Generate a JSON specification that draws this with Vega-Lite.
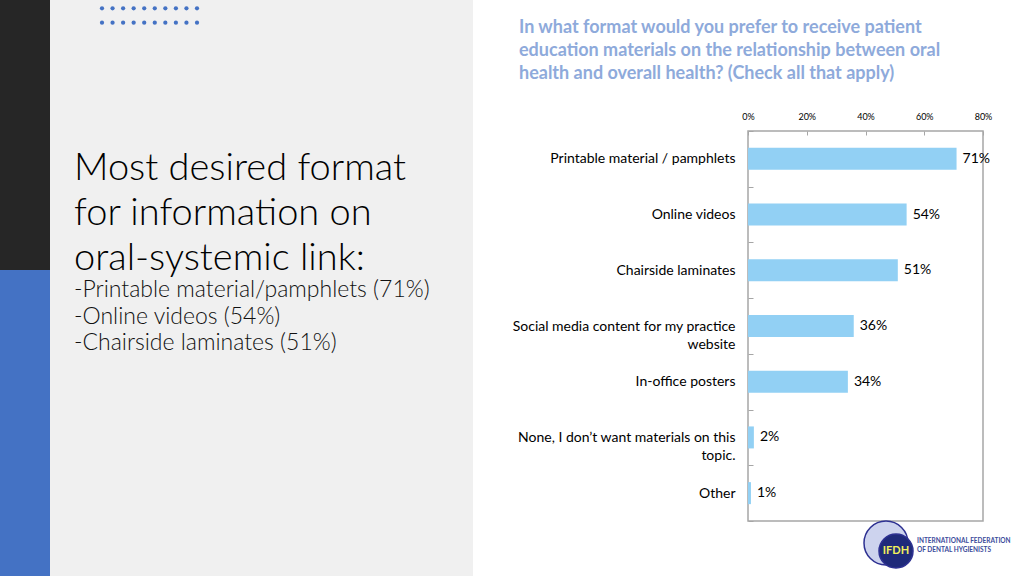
{
  "$schema": "https://vega.github.io/schema/vega-lite/v6.json",
  "padding": 0,
  "autosize": {"type": "pad"},
  "background": "white",
  "config": {"view": {"stroke": null}, "font": "Lato"},
  "spacing": 37,
  "hconcat": [
    {
      "spacing": 0,
      "hconcat": [
        {
          "spacing": 0,
          "vconcat": [
            {"width": 50, "height": 270, "view": {"fill": "#262626", "stroke": null}, "data": {"values": [{}]}, "mark": {"type": "text", "text": ""}, "encoding": {}},
            {"width": 50, "height": 306, "view": {"fill": "#4472c4", "stroke": null}, "data": {"values": [{}]}, "mark": {"type": "text", "text": ""}, "encoding": {}}
          ]
        },
        {
          "width": 423,
          "height": 576,
          "view": {"fill": "#f0f0f0", "stroke": null},
          "title": {
            "text": ["Most desired format", "for information on", "oral-systemic link:"],
            "subtitle": ["-Printable material/pamphlets (71%)", "-Online videos (54%)", "-Chairside laminates (51%)"],
            "orient": "top", "anchor": "start", "frame": "group", "offset": -355, "dx": 24,
            "font": "Lato", "fontSize": 38, "fontWeight": 300, "color": "#000000", "lineHeight": 45,
            "subtitleFont": "Lato", "subtitleFontSize": 23, "subtitleFontWeight": 300, "subtitleColor": "#111111", "subtitleLineHeight": 26.5, "subtitlePadding": 1
          },
          "data": {"values": [
            {"row": 1, "col": 1}, {"row": 1, "col": 2}, {"row": 1, "col": 3}, {"row": 1, "col": 4}, {"row": 1, "col": 5},
            {"row": 1, "col": 6}, {"row": 1, "col": 7}, {"row": 1, "col": 8}, {"row": 1, "col": 9}, {"row": 1, "col": 10},
            {"row": 2, "col": 1}, {"row": 2, "col": 2}, {"row": 2, "col": 3}, {"row": 2, "col": 4}, {"row": 2, "col": 5},
            {"row": 2, "col": 6}, {"row": 2, "col": 7}, {"row": 2, "col": 8}, {"row": 2, "col": 9}, {"row": 2, "col": 10}
          ]},
          "mark": {"type": "circle", "size": 18, "color": "#4472c4", "opacity": 1},
          "encoding": {
            "x": {"field": "col", "type": "ordinal", "scale": {"type": "point", "range": [52, 147], "padding": 0}, "axis": null},
            "y": {"field": "row", "type": "ordinal", "scale": {"type": "point", "range": [8.3, 22.7], "padding": 0}, "axis": null}
          }
        }
      ]
    },
    {
      "spacing": 0,
      "bounds": "flush",
      "vconcat": [
        {"width": 235, "height": 131, "data": {"values": [{}]}, "mark": {"type": "text", "text": ""}, "encoding": {}},
        {
          "width": 235,
          "height": 390,
          "view": {"stroke": "#a6a6a6", "strokeWidth": 1.5},
          "title": {
            "text": ["In what format would you prefer to receive patient", "education materials on the relationship between oral", "health and overall health? (Check all that apply)"],
            "anchor": "start", "frame": "group", "dx": -229, "offset": 29,
            "font": "Lato", "fontSize": 18, "fontWeight": "bold", "color": "#8eaadb", "lineHeight": 23
          },
          "data": {"values": [
            {"option": "Printable material / pamphlets", "pct": 0.71},
            {"option": "Online videos", "pct": 0.54},
            {"option": "Chairside laminates", "pct": 0.51},
            {"option": "Social media content for my practice website", "pct": 0.36},
            {"option": "In-office posters", "pct": 0.34},
            {"option": "None, I don’t want materials on this topic.", "pct": 0.02},
            {"option": "Other", "pct": 0.01}
          ]},
          "encoding": {
            "y": {
              "field": "option", "type": "nominal", "sort": null,
              "scale": {"paddingInner": 0, "paddingOuter": 0},
              "axis": {
                "title": null, "domain": false, "ticks": true, "tickBand": "extent", "tickSize": -5, "tickColor": "#a6a6a6",
                "labelPadding": 18, "labelFontSize": 14, "labelColor": "#000000", "labelFont": "Lato", "labelLimit": 300, "labelLineHeight": 18,
                "labelExpr": "datum.value == 'Social media content for my practice website' ? ['Social media content for my practice', 'website'] : datum.value == 'None, I don’t want materials on this topic.' ? ['None, I don’t want materials on this', 'topic.'] : datum.label"
              }
            }
          },
          "layer": [
            {
              "mark": {"type": "bar", "color": "#92d0f4", "height": 22},
              "encoding": {
                "x": {
                  "field": "pct", "type": "quantitative",
                  "scale": {"domain": [0, 0.8], "nice": false},
                  "axis": {
                    "orient": "top", "values": [0, 0.2, 0.4, 0.6, 0.8], "format": ".0%", "title": null, "grid": false,
                    "domain": false, "ticks": true, "tickSize": -4, "tickColor": "#a6a6a6",
                    "labelFontSize": 9, "labelColor": "#000000", "labelPadding": 14, "labelFont": "Lato", "labelFlush": false
                  }
                }
              }
            },
            {
              "mark": {"type": "text", "align": "left", "baseline": "middle", "dx": 6, "fontSize": 14, "color": "#000000", "font": "Lato"},
              "encoding": {
                "x": {"field": "pct", "type": "quantitative"},
                "text": {"field": "pct", "type": "quantitative", "format": ".0%"}
              }
            }
          ]
        },
        {
          "width": 274,
          "height": 54,
          "data": {"values": [{"org": "IFDH"}]},
          "layer": [
            {"mark": {"type": "circle", "size": 1936, "fill": "#cdd3ee", "stroke": "#2e3192", "strokeWidth": 1.5, "opacity": 1, "xOffset": 1, "yOffset": -5}, "encoding": {}},
            {"mark": {"type": "circle", "size": 1156, "fill": "#1f2a7a", "stroke": "#2e3192", "strokeWidth": 1.5, "opacity": 1, "xOffset": 11, "yOffset": 3}, "encoding": {}},
            {"mark": {"type": "text", "align": "center", "baseline": "middle", "dx": 11, "dy": 3, "fontSize": 11, "fontWeight": "bold", "color": "#f2f25a", "font": "Lato"}, "encoding": {"text": {"field": "org"}}},
            {"mark": {"type": "text", "align": "left", "baseline": "middle", "dx": 32, "dy": -7.5, "fontSize": 6.5, "fontWeight": "bold", "color": "#3c4b9b", "font": "Lato", "lineHeight": 9.5}, "encoding": {"text": {"value": ["INTERNATIONAL FEDERATION", "OF DENTAL HYGIENISTS"]}}}
          ]
        }
      ]
    }
  ]
}
